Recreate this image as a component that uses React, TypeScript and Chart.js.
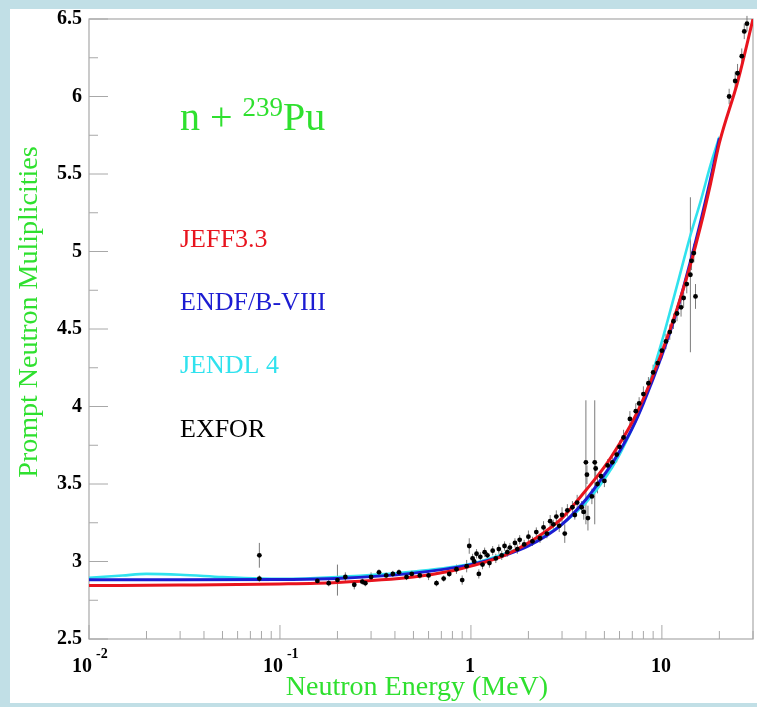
import { useEffect, useRef } from 'react';
import { Chart, registerables } from 'chart.js';
Chart.register(...registerables);

// ---- tick labels ----
const xTickValues = [0.01, 0.1, 1, 10];
const xTickMantissa = ['10', '10', '1', '10'];
const xTickExponent = ['-2', '-1', '', ''];
const yTickValues = [2.5, 3, 3.5, 4, 4.5, 5, 5.5, 6, 6.5];
const yTickLabels = ['2.5', '3', '3.5', '4', '4.5', '5', '5.5', '6', '6.5'];

// ---- evaluations ----
const jeffEnergy = [0.01, 0.03, 0.1, 0.2, 0.5, 0.8, 1, 1.5, 2, 2.5, 3, 4, 5, 6, 7, 8, 10, 12, 14, 16, 18, 20, 25, 30];
const jeffNu = [2.845, 2.848, 2.855, 2.865, 2.9, 2.94, 2.97, 3.04, 3.12, 3.2, 3.28, 3.46, 3.61, 3.76, 3.9, 4.05, 4.35, 4.63, 4.9, 5.17, 5.44, 5.7, 6.1, 6.5];

const endfEnergy = [0.01, 0.03, 0.1, 0.2, 0.5, 1, 1.5, 2, 3, 4, 5, 6, 7, 8, 10, 12, 14, 16, 18, 20];
const endfNu = [2.882, 2.882, 2.884, 2.89, 2.925, 2.98, 3.04, 3.1, 3.24, 3.4, 3.56, 3.71, 3.86, 4.02, 4.33, 4.62, 4.92, 5.2, 5.47, 5.73];

const jendlEnergy = [0.01, 0.015, 0.02, 0.03, 0.05, 0.08, 0.1, 0.2, 0.5, 1, 1.5, 2, 3, 4, 5, 6, 7, 8, 10, 12, 14, 16, 18, 20];
const jendlNu = [2.895, 2.91, 2.92, 2.915, 2.9, 2.89, 2.888, 2.9, 2.935, 2.985, 3.05, 3.11, 3.24, 3.38, 3.53, 3.69, 3.86, 4.03, 4.42, 4.78, 5.09, 5.33, 5.56, 5.74];

// ---- EXFOR measurements ----
const exforEnergy = [0.078, 0.078, 0.157, 0.18, 0.2, 0.22, 0.245, 0.27, 0.28, 0.3, 0.33, 0.36, 0.39, 0.42, 0.46, 0.49, 0.54, 0.6, 0.66, 0.72, 0.77, 0.84, 0.9, 0.95, 0.98, 1.02, 1.04, 1.07, 1.1, 1.12, 1.15, 1.18, 1.22, 1.25, 1.3, 1.35, 1.4, 1.45, 1.5, 1.55, 1.6, 1.7, 1.75, 1.8, 1.9, 2.0, 2.1, 2.2, 2.3, 2.4, 2.5, 2.6, 2.7, 2.8, 2.9, 3.0, 3.1, 3.2, 3.4, 3.5, 3.6, 3.8, 3.9, 4.0, 4.05, 4.1, 4.3, 4.45, 4.5, 4.6, 4.8, 5.0, 5.2, 5.5, 5.8, 6.0, 6.3, 6.8, 7.3, 7.6, 8.0, 8.5, 9.0, 9.5, 10.0, 10.5, 11.0, 11.5, 12.0, 12.6, 13.0, 13.5, 14.1, 14.3, 14.7, 15.0, 22.5, 24.2, 24.9, 26.2, 27.0, 27.9];
const exforNu = [3.04, 2.89, 2.875, 2.86, 2.88, 2.9, 2.85, 2.87, 2.86, 2.9, 2.93, 2.91, 2.92, 2.93, 2.9, 2.92, 2.91, 2.91, 2.86, 2.89, 2.92, 2.95, 2.88, 2.97, 3.1, 3.02, 3.0, 3.05, 2.92, 3.03, 2.98, 3.06, 3.04, 2.99, 3.07, 3.02, 3.08, 3.04, 3.1, 3.06, 3.09, 3.12, 3.08, 3.14, 3.11, 3.16, 3.13, 3.19, 3.15, 3.22, 3.18, 3.26, 3.24, 3.29, 3.23, 3.3, 3.18, 3.33, 3.35, 3.3, 3.38, 3.35, 3.32, 3.64, 3.56, 3.28, 3.42, 3.64, 3.6, 3.5, 3.55, 3.52, 3.62, 3.64, 3.69, 3.74, 3.8, 3.92, 3.97, 4.02, 4.08, 4.15, 4.22, 4.28, 4.36, 4.42, 4.48, 4.55, 4.6, 4.64, 4.7, 4.79, 4.85, 4.94, 4.99, 4.71, 6.0, 6.1, 6.15, 6.26, 6.42, 6.47];
const exforErr = [0.08, 0.02, 0.02, 0.02, 0.1, 0.03, 0.03, 0.02, 0.02, 0.03, 0.02, 0.02, 0.02, 0.02, 0.02, 0.02, 0.02, 0.03, 0.02, 0.02, 0.02, 0.03, 0.03, 0.04, 0.05, 0.03, 0.03, 0.03, 0.03, 0.03, 0.03, 0.03, 0.02, 0.03, 0.03, 0.03, 0.03, 0.03, 0.03, 0.03, 0.03, 0.03, 0.03, 0.03, 0.03, 0.04, 0.03, 0.03, 0.03, 0.04, 0.03, 0.04, 0.03, 0.04, 0.04, 0.05, 0.06, 0.04, 0.04, 0.03, 0.05, 0.04, 0.05, 0.4, 0.06, 0.08, 0.05, 0.4, 0.05, 0.06, 0.04, 0.04, 0.04, 0.04, 0.05, 0.04, 0.05, 0.05, 0.05, 0.04, 0.05, 0.04, 0.05, 0.04, 0.05, 0.05, 0.05, 0.05, 0.05, 0.06, 0.06, 0.06, 0.5, 0.06, 0.06, 0.08, 0.05, 0.06, 0.06, 0.05, 0.05, 0.05];

const SERIF = '"Liberation Serif", "Times New Roman", Times, serif';
const GREEN = '#2fe02f';
const RED = '#e8141e';
const BLUE = '#1c1cd2';
const CYAN = '#30e2ee';
const BG = '#c1dfe6';
const TICK = '#a8a8a8';

const toXY = (xs: number[], ys: number[]) => xs.map((x, i) => ({ x, y: ys[i] }));

const decor = {
  id: 'decor',
  beforeDraw(chart: any) {
    const { ctx, width, height } = chart;
    ctx.save();
    ctx.fillStyle = BG;
    ctx.fillRect(0, 0, width, height);
    ctx.fillStyle = '#ffffff';
    ctx.fillRect(10, 9, width - 10, 694);
    ctx.restore();
  },
  beforeDatasetsDraw(chart: any) {
    const { ctx, chartArea: a, scales } = chart;
    const xs = scales.x, ys = scales.y;
    ctx.save();
    // frame
    ctx.strokeStyle = TICK;
    ctx.lineWidth = 1.2;
    ctx.strokeRect(a.left, a.top, a.right - a.left, a.bottom - a.top);
    // y ticks
    ctx.lineWidth = 1;
    for (let i = 0; i < yTickValues.length; i++) {
      const y = ys.getPixelForValue(yTickValues[i]);
      ctx.beginPath(); ctx.moveTo(a.left, y); ctx.lineTo(a.left + 19, y); ctx.stroke();
      if (i < yTickValues.length - 1) {
        const ym = ys.getPixelForValue((yTickValues[i] + yTickValues[i + 1]) / 2);
        ctx.beginPath(); ctx.moveTo(a.left, ym); ctx.lineTo(a.left + 9, ym); ctx.stroke();
      }
    }
    // x ticks
    for (const d of xTickValues) {
      for (let m = 1; m <= 9; m++) {
        const v = d * m;
        if (v > xs.max + 1e-9) continue;
        const x = xs.getPixelForValue(v);
        const len = m === 1 ? 14 : 8;
        ctx.beginPath(); ctx.moveTo(x, a.bottom); ctx.lineTo(x, a.bottom - len); ctx.stroke();
      }
    }
    // error bars
    ctx.strokeStyle = '#7a7a7a';
    ctx.lineWidth = 1;
    for (let i = 0; i < exforEnergy.length; i++) {
      const x = xs.getPixelForValue(exforEnergy[i]);
      const y1 = ys.getPixelForValue(exforNu[i] - exforErr[i]);
      const y2 = ys.getPixelForValue(exforNu[i] + exforErr[i]);
      ctx.beginPath(); ctx.moveTo(x, y1); ctx.lineTo(x, y2); ctx.stroke();
    }
    ctx.restore();
  },
  afterDraw(chart: any) {
    const { ctx, chartArea: a, scales } = chart;
    const xs = scales.x;
    ctx.save();
    // x tick labels
    ctx.fillStyle = '#000';
    ctx.textBaseline = 'alphabetic';
    for (let i = 0; i < xTickValues.length; i++) {
      const x = xs.getPixelForValue(xTickValues[i]);
      ctx.font = `bold 20px ${SERIF}`;
      if (xTickExponent[i]) {
        ctx.textAlign = 'right';
        ctx.fillText(xTickMantissa[i], x + 3, 672);
        ctx.font = `bold 14px ${SERIF}`;
        ctx.textAlign = 'left';
        ctx.fillText(xTickExponent[i], x + 7, 658);
      } else {
        ctx.textAlign = 'center';
        ctx.fillText(xTickMantissa[i], x - 1, 672);
      }
    }
    // axis titles
    ctx.fillStyle = GREEN;
    ctx.font = `28px ${SERIF}`;
    ctx.textAlign = 'center';
    ctx.fillText('Neutron Energy (MeV)', 417, 695);
    ctx.save();
    ctx.translate(37, 312);
    ctx.rotate(-Math.PI / 2);
    ctx.fillText('Prompt Neutron Muliplicities', 0, 0);
    ctx.restore();
    // reaction label
    ctx.textAlign = 'left';
    ctx.font = `40px ${SERIF}`;
    let x = 180;
    ctx.fillText('n + ', x, 130);
    x += ctx.measureText('n + ').width;
    ctx.font = `27px ${SERIF}`;
    ctx.fillText('239', x, 116);
    x += ctx.measureText('239').width;
    ctx.font = `40px ${SERIF}`;
    ctx.fillText('Pu', x, 130);
    // legend texts
    ctx.font = `26px ${SERIF}`;
    ctx.fillStyle = RED; ctx.fillText('JEFF3.3', 180, 247);
    ctx.fillStyle = BLUE; ctx.fillText('ENDF/B-VIII', 180, 310);
    ctx.fillStyle = CYAN; ctx.fillText('JENDL 4', 180, 373);
    ctx.fillStyle = '#000'; ctx.fillText('EXFOR', 180, 437);
    ctx.restore();
  },
};

export default function App() {
  const ref = useRef<HTMLCanvasElement>(null);
  useEffect(() => {
    document.body.style.margin = '0';
    const chart = new Chart(ref.current as HTMLCanvasElement, {
      type: 'scatter',
      data: {
        datasets: [
          {
            label: 'EXFOR',
            data: toXY(exforEnergy, exforNu),
            pointRadius: 2.4,
            pointBackgroundColor: '#000',
            pointBorderColor: '#000',
            pointBorderWidth: 0,
            showLine: false,
            order: 0,
          },
          {
            label: 'JEFF3.3',
            data: toXY(jeffEnergy, jeffNu),
            showLine: true,
            borderColor: RED,
            borderWidth: 3,
            pointRadius: 0,
            cubicInterpolationMode: 'monotone',
            order: 1,
          },
          {
            label: 'ENDF/B-VIII',
            data: toXY(endfEnergy, endfNu),
            showLine: true,
            borderColor: BLUE,
            borderWidth: 3,
            pointRadius: 0,
            cubicInterpolationMode: 'monotone',
            order: 2,
          },
          {
            label: 'JENDL 4',
            data: toXY(jendlEnergy, jendlNu),
            showLine: true,
            borderColor: CYAN,
            borderWidth: 2.6,
            pointRadius: 0,
            cubicInterpolationMode: 'monotone',
            order: 3,
          },
        ],
      } as any,
      options: {
        responsive: false,
        animation: false,
        devicePixelRatio: 1,
        layout: { padding: { top: 12, right: 4, left: 0, bottom: 0 } },
        plugins: { legend: { display: false }, tooltip: { enabled: false } },
        scales: {
          x: {
            type: 'logarithmic',
            min: 0.01,
            max: 30,
            ticks: { display: false },
            grid: { display: false, drawTicks: false },
            border: { display: false },
            afterFit: (s: any) => { s.height = 68; },
          },
          y: {
            type: 'linear',
            min: 2.5,
            max: 6.5,
            afterBuildTicks: (s: any) => { s.ticks = yTickValues.map((v) => ({ value: v })); },
            ticks: {
              callback: (v: any) => { const i = yTickValues.indexOf(Number(v)); return i >= 0 ? yTickLabels[i] : ''; },
              color: '#000',
              padding: 7,
              font: { family: SERIF, size: 20, weight: 'bold' },
            },
            grid: { display: false, drawTicks: false },
            border: { display: false },
            afterFit: (s: any) => { s.width = 89; },
          },
        },
      } as any,
      plugins: [decor],
    });
    return () => chart.destroy();
  }, []);
  return (
    <div style={{ position: 'fixed', left: 0, top: 0, width: 757, height: 707 }}>
      <canvas ref={ref} width={757} height={707} style={{ display: 'block', width: 757, height: 707 }} />
    </div>
  );
}
